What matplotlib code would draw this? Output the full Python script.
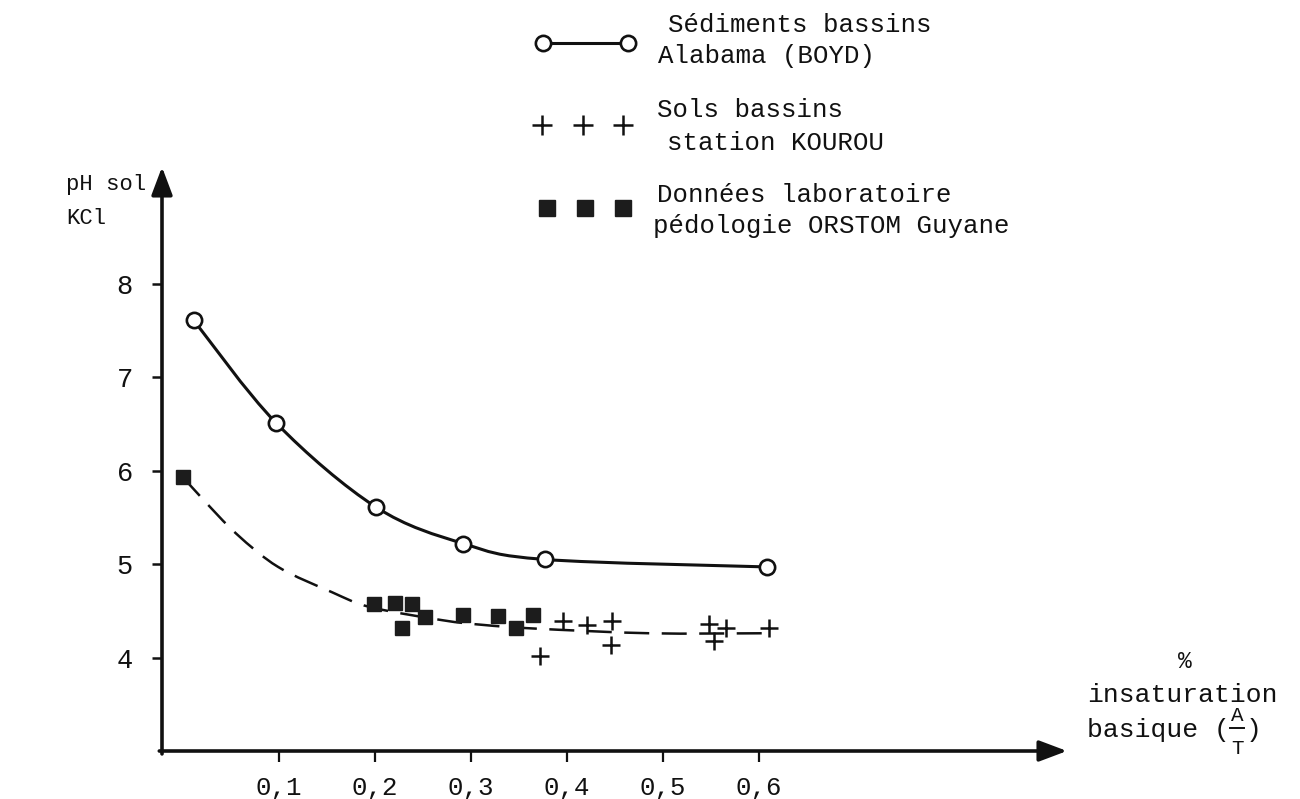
import matplotlib
matplotlib.use("Agg")
import matplotlib.pyplot as plt
from matplotlib.path import Path
from matplotlib.patches import PathPatch

# Sédiments bassins Alabama (BOYD)
boyd_x = [0.011, 0.097, 0.201, 0.292, 0.377, 0.608]
boyd_ph = [7.61, 6.51, 5.61, 5.22, 5.05, 4.97]

# Sols bassins station KOUROU
kourou_x = [0.372, 0.396, 0.421, 0.447, 0.446, 0.548, 0.553, 0.566, 0.610]
kourou_ph = [4.02, 4.39, 4.35, 4.39, 4.13, 4.36, 4.18, 4.32, 4.32]

# Données laboratoire pédologie ORSTOM Guyane
orstom_x = [0.000, 0.199, 0.221, 0.239, 0.252, 0.228, 0.292, 0.328, 0.347, 0.365]
orstom_ph = [5.93, 4.57, 4.58, 4.57, 4.43, 4.32, 4.46, 4.45, 4.32, 4.46]

# hand-drawn trend through the Guyane soils
trend_x = [0.000, 0.021, 0.056, 0.099, 0.155, 0.195, 0.270, 0.312, 0.367, 0.486, 0.604]
trend_ph = [5.93, 5.69, 5.32, 4.97, 4.70, 4.54, 4.40, 4.35, 4.31, 4.26, 4.26]

x_ticks = [0.1, 0.2, 0.3, 0.4, 0.5, 0.6]
x_tick_labels = ["0,1", "0,2", "0,3", "0,4", "0,5", "0,6"]
y_ticks = [4, 5, 6, 7, 8]
y_tick_labels = ["4", "5", "6", "7", "8"]

FONT = "Liberation Mono"
FS = 18.5
INK = "#111111"


def smooth_path(xs, ys):
    """Cubic Bezier path passing through every (x, y) pair."""
    pts = list(zip(xs, ys))
    n = len(pts)
    verts = [pts[0]]
    codes = [Path.MOVETO]
    for i in range(n - 1):
        p0 = pts[i - 1] if i > 0 else pts[i]
        p1 = pts[i]
        p2 = pts[i + 1]
        p3 = pts[i + 2] if i + 2 < n else pts[i + 1]
        c1 = (p1[0] + (p2[0] - p0[0]) / 6, p1[1] + (p2[1] - p0[1]) / 6)
        c2 = (p2[0] - (p3[0] - p1[0]) / 6, p2[1] - (p3[1] - p1[1]) / 6)
        verts += [c1, c2, p2]
        codes += [Path.CURVE4] * 3
    return Path(verts, codes)


W, H = 1300, 799
fig = plt.figure(figsize=(W / 100, H / 100), dpi=100)
fig.patch.set_facecolor("white")

ax = fig.add_axes([162 / W, 1 - 751 / H, 905 / W, 584 / H])
ax.set_xlim(-0.022, 0.921)
ax.set_ylim(3.0, 9.25)
for s in ax.spines.values():
    s.set_visible(False)
ax.patch.set_alpha(0)

# axes drawn as arrows
arrow = dict(arrowstyle="-|>,head_length=0.85,head_width=0.32", lw=2.6,
             color=INK, mutation_scale=20, shrinkA=0, shrinkB=0)
ax.annotate("", xy=(0, 1), xytext=(0, -0.005), xycoords="axes fraction",
            arrowprops=arrow, annotation_clip=False)
ax.annotate("", xy=(1, 0), xytext=(-0.003, 0), xycoords="axes fraction",
            arrowprops=arrow, annotation_clip=False)

ax.set_xticks(x_ticks)
ax.set_xticklabels(x_tick_labels, fontfamily=FONT, fontsize=FS)
ax.set_yticks(y_ticks)
ax.set_yticklabels(y_tick_labels, fontfamily=FONT, fontsize=FS + 1)
ax.tick_params(axis="x", direction="out", length=8, width=1.6, pad=10, colors=INK)
ax.tick_params(axis="y", direction="out", length=7, width=1.8, pad=14, colors=INK)

# BOYD: smooth curve with open circles
ax.add_patch(PathPatch(smooth_path(boyd_x, boyd_ph), fill=False, lw=2.2,
                       edgecolor=INK, zorder=3))
ax.plot(boyd_x, boyd_ph, linestyle="none", marker="o", ms=11, mfc="white",
        mec=INK, mew=1.9, zorder=4)

# trend of the Guyane soils, dashed
ax.add_patch(PathPatch(smooth_path(trend_x, trend_ph), fill=False, lw=1.8,
                       edgecolor=INK, linestyle=(0, (10, 5)), zorder=2))

# ORSTOM squares
ax.plot(orstom_x, orstom_ph, linestyle="none", marker="s", ms=10,
        mfc="#1c1c1c", mec="#1c1c1c", zorder=5)

# KOUROU crosses
ax.plot(kourou_x, kourou_ph, linestyle="none", marker="+", ms=13,
        mew=1.8, color=INK, zorder=5)

# overlay in pixel units for the key and the axis titles
ov = fig.add_axes([0, 0, 1, 1], zorder=-1)
ov.set_xlim(0, W)
ov.set_ylim(H, 0)
ov.axis("off")

ov.plot([543, 628], [43, 43], "-", color=INK, lw=2.2, marker="o", ms=11,
        mfc="white", mec=INK, mew=1.9)
ov.plot([542, 583, 623], [125, 125, 125], linestyle="none", marker="+",
        ms=14, mew=1.8, color=INK)
ov.plot([547, 585, 623], [208, 208, 208], linestyle="none", marker="s",
        ms=12, mfc="#1c1c1c", mec="#1c1c1c")

key_text = [
    ("Sédiments bassins", 668, 32),
    ("Alabama (BOYD)", 658, 63),
    ("Sols bassins", 657, 117),
    ("station KOUROU", 667, 150),
    ("Données laboratoire", 657, 202),
    ("pédologie ORSTOM Guyane", 653, 233),
]
for txt, x, y in key_text:
    ov.text(x, y, txt, fontfamily=FONT, fontsize=FS, color=INK,
            ha="left", va="baseline")

# y title
ov.text(66, 190, "pH sol", fontfamily=FONT, fontsize=16, color=INK,
        ha="left", va="baseline")
ov.text(66, 224, "KCl", fontfamily=FONT, fontsize=16, color=INK,
        ha="left", va="baseline")

# x title
ov.text(1185, 668, "%", fontfamily=FONT, fontsize=FS - 2, color=INK,
        ha="center", va="baseline")
ov.text(1087, 702, "insaturation", fontfamily=FONT, fontsize=FS + 0.5,
        color=INK, ha="left", va="baseline")
ov.text(1087, 737, "basique (", fontfamily=FONT, fontsize=FS + 0.5,
        color=INK, ha="left", va="baseline")
ov.text(1246, 737, ")", fontfamily=FONT, fontsize=FS + 0.5,
        color=INK, ha="left", va="baseline")
ov.text(1237, 721, "A", fontfamily=FONT, fontsize=15, color=INK,
        ha="center", va="baseline")
ov.plot([1230, 1244], [728, 728], color=INK, lw=1.4)
ov.text(1237, 754, "T", fontfamily=FONT, fontsize=15, color=INK,
        ha="center", va="baseline")

fig.savefig("out.png", dpi=100, facecolor="white")
